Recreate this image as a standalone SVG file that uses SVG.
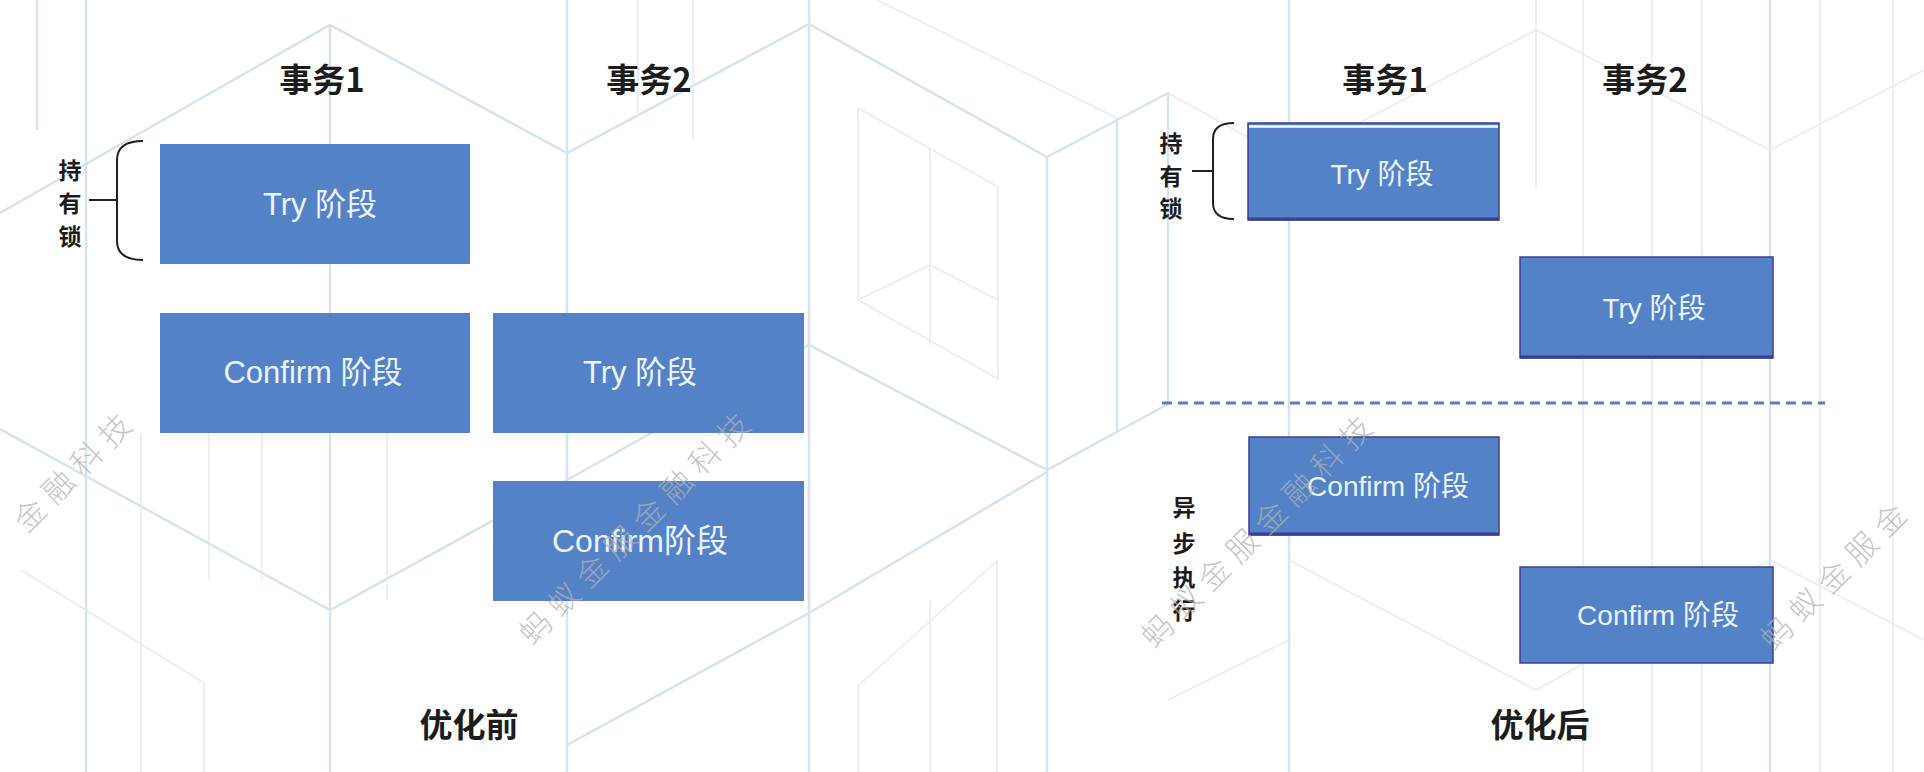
<svg xmlns="http://www.w3.org/2000/svg" width="1924" height="772" viewBox="0 0 1924 772">
<style>
.bg{stroke:#d5e4ed;stroke-width:2.5;fill:none}
.bg2{stroke:#e5edf2;stroke-width:1.6;fill:none}
.box{fill:#5383c6}
.boxr{fill:#5383c6;stroke:#3d3f92;stroke-width:1.5}
.edge{stroke:#393d94;stroke-width:3}
.bt{font-family:"Liberation Sans","Noto Sans CJK SC",sans-serif;fill:#e9f2fc;text-anchor:middle;dominant-baseline:central}
.hd{font-family:"Noto Sans CJK SC",sans-serif;font-weight:700;fill:#1c1c1c;text-anchor:middle;dominant-baseline:central;font-size:33px}
.vt{font-family:"Noto Sans CJK SC",sans-serif;font-weight:700;fill:#1c1c1c;text-anchor:middle;dominant-baseline:central;font-size:23px}
.wm{font-family:"Noto Sans CJK SC",sans-serif;font-weight:300;font-size:31px;fill:#b2b2b2;fill-opacity:0.75;text-anchor:middle;dominant-baseline:central;letter-spacing:9px}
.br{fill:none;stroke:#222;stroke-width:2}
</style>
<rect width="1924" height="772" fill="#ffffff"/>
<g id="background">
<line class="bg" x1="37" y1="0" x2="37" y2="130"/>
<line class="bg" x1="86" y1="0" x2="86" y2="772"/>
<polyline class="bg" points="0,213 330,25 567,153 809,24 1047,157 1168,93"/>
<polyline class="bg" points="0,429 330,610 567,480 809,345 1047,470 1168,404"/>
<polyline class="bg" points="567,745 809,613 1047,472"/>
<line class="bg" x1="330" y1="25" x2="330" y2="772"/>
<line class="bg" x1="567" y1="0" x2="567" y2="772"/>
<line class="bg" x1="809" y1="0" x2="809" y2="772"/>
<line class="bg" x1="1047" y1="157" x2="1047" y2="772"/>
<line class="bg" x1="1117" y1="118" x2="1117" y2="432"/>
<line class="bg" x1="1168" y1="93" x2="1168" y2="402"/>
<line class="bg" x1="1289" y1="0" x2="1289" y2="772"/>
<line class="bg" x1="1770" y1="0" x2="1770" y2="772"/>
<line class="bg2" x1="141" y1="433" x2="141" y2="772"/>
<line class="bg2" x1="209" y1="433" x2="209" y2="580"/>
<line class="bg2" x1="262" y1="433" x2="262" y2="580"/>
<line class="bg2" x1="387" y1="433" x2="387" y2="600"/>
<line class="bg2" x1="638" y1="0" x2="638" y2="117"/>
<line class="bg2" x1="693" y1="0" x2="693" y2="140"/>
<polyline class="bg2" points="21,570 204,683 204,772"/>
<polyline class="bg2" points="858,108 998,187 998,379 858,300 858,108"/>
<polyline class="bg2" points="930,148 930,345"/>
<polyline class="bg2" points="858,300 930,265 998,300"/>
<polyline class="bg2" points="858,772 858,686 997,561 997,772"/>
<line class="bg2" x1="930" y1="600" x2="930" y2="772"/>
<line class="bg2" x1="877" y1="0" x2="1117" y2="118"/>
<line class="bg2" x1="1536" y1="0" x2="1536" y2="190"/>
<line class="bg2" x1="1583" y1="0" x2="1583" y2="772"/>
<line class="bg2" x1="1652" y1="0" x2="1652" y2="772"/>
<line class="bg2" x1="1702" y1="0" x2="1702" y2="772"/>
<line class="bg2" x1="1820" y1="0" x2="1820" y2="772"/>
<line class="bg2" x1="1893" y1="0" x2="1893" y2="772"/>
<polyline class="bg2" points="1168,93 1289,160 1536,30 1770,150 1924,70"/>
<polyline class="bg2" points="1289,560 1536,690 1770,560 1924,640"/>
<polyline class="bg2" points="1168,700 1289,640"/>
</g>
<g id="before">
<g id="b-h1"><text class="hd" x="322" y="78">事务1</text></g>
<g id="b-h2"><text class="hd" x="649" y="78">事务2</text></g>
<g id="b-t1-try"><rect class="box" x="160" y="144" width="310" height="120"/><text class="bt" x="320" y="204" font-size="31">Try 阶段</text></g>
<g id="b-t1-confirm"><rect class="box" x="160" y="313" width="310" height="120"/><text class="bt" x="313" y="372" font-size="31">Confirm 阶段</text></g>
<g id="b-t2-try"><rect class="box" x="493" y="313" width="311" height="120"/><text class="bt" x="640" y="372" font-size="31">Try 阶段</text></g>
<g id="b-t2-confirm"><rect class="box" x="493" y="481" width="311" height="120"/><text class="bt" x="640" y="541" font-size="32">Confirm阶段</text></g>
<g id="b-lock"><path class="br" d="M143,141 C125,141 117,148 117,160 L117,241 C117,253 125,260 143,260"/><line class="br" x1="89" y1="200" x2="117" y2="200"/><text class="vt" x="70" y="169">持</text><text class="vt" x="70" y="202">有</text><text class="vt" x="70" y="235">锁</text></g>
<g id="b-title"><text class="hd" x="469" y="723">优化前</text></g>
</g>
<g id="after">
<g id="a-h1"><text class="hd" x="1385" y="78">事务1</text></g>
<g id="a-h2"><text class="hd" x="1645" y="78">事务2</text></g>
<g id="a-t1-try"><rect class="boxr" x="1248" y="123" width="251" height="97"/><line x1="1249" y1="126.5" x2="1498" y2="126.5" stroke="#ffffff" stroke-width="2.5"/><line class="edge" x1="1248" y1="219" x2="1499" y2="219"/><text class="bt" x="1382" y="174" font-size="28">Try 阶段</text></g>
<g id="a-t2-try"><rect class="boxr" x="1520" y="257" width="253" height="101"/><line class="edge" x1="1520" y1="357" x2="1773" y2="357"/><text class="bt" x="1654" y="308" font-size="28">Try 阶段</text></g>
<g id="a-t1-confirm"><rect class="boxr" x="1249" y="437" width="250" height="98"/><line class="edge" x1="1249" y1="534" x2="1499" y2="534"/><text class="bt" x="1388" y="486" font-size="28">Confirm 阶段</text></g>
<g id="a-t2-confirm"><rect class="boxr" x="1520" y="567" width="253" height="96"/><text class="bt" x="1658" y="615" font-size="28">Confirm 阶段</text></g>
<g id="a-lock"><path class="br" d="M1234,123 C1219,123 1213,129 1213,139 L1213,203 C1213,213 1219,219 1234,219"/><line class="br" x1="1192" y1="171" x2="1213" y2="171"/><text class="vt" x="1171" y="142">持</text><text class="vt" x="1171" y="175">有</text><text class="vt" x="1171" y="207">锁</text></g>
<g id="a-async"><text class="vt" x="1184" y="506">异</text><text class="vt" x="1184" y="542">步</text><text class="vt" x="1184" y="576">执</text><text class="vt" x="1184" y="609">行</text></g>
<g id="a-title"><text class="hd" x="1540" y="723">优化后</text></g>
</g>
<g id="connectors">
<line x1="1162" y1="403" x2="1825" y2="403" stroke="#5b7fb6" stroke-width="3" stroke-dasharray="10 6"/>
</g>
<g id="watermarks">
<text class="wm" transform="translate(74,468) rotate(-45)">金融科技</text>
<text class="wm" transform="translate(636,524) rotate(-45)">蚂蚁金服金融科技</text>
<text class="wm" transform="translate(1258,527) rotate(-45)">蚂蚁金服金融科技</text>
<text class="wm" transform="translate(1835,572) rotate(-45)">蚂蚁金服金</text>
</g>
</svg>
